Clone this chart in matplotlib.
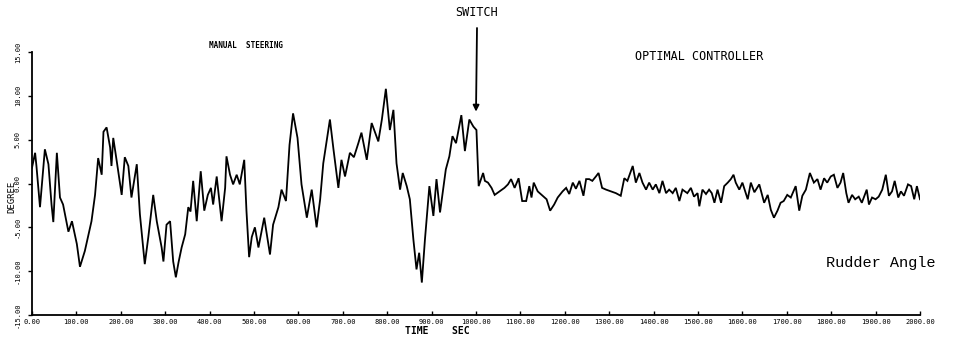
import matplotlib
matplotlib.use("Agg")
import matplotlib.pyplot as plt
import numpy as np

# Rudder angle record, manual steering (0-1000 s)
time_manual = [0, 7, 10, 18, 29, 37, 44, 48, 56, 63, 70, 82, 90, 101, 108, 119, 134, 142,
               149, 157, 161, 168, 176, 179, 183, 191, 202, 209, 217, 224, 236, 243, 254,
               262, 273, 281, 292, 296, 303, 311, 318, 324, 330, 337, 345, 352, 357, 363,
               371, 380, 388, 396, 403, 408, 416, 427, 435, 438, 446, 453, 461, 468, 478,
               483, 489, 495, 502, 510, 523, 536, 543, 555, 562, 572, 580, 588, 598, 607,
               619, 630, 641, 649, 656, 664, 671, 679, 690, 697, 705, 716, 725, 735, 742,
               754, 765, 780, 788, 797, 806, 814, 821, 829, 835, 844, 851, 859, 866, 872,
               878, 885, 895, 904, 911, 919, 932, 940, 947, 955, 967, 975, 985, 994, 1001]
angle_manual = [1.8, 3.5, 2.0, -2.7, 3.9, 2.2, -2.4, -4.4, 3.5, -1.6, -2.4, -5.5, -4.3, -6.9,
                -9.5, -7.7, -4.3, -1.3, 2.9, 1.0, 5.9, 6.4, 4.1, 2.0, 5.2, 2.5, -1.3, 3.0,
                2.0, -1.6, 2.2, -3.5, -9.2, -6.1, -1.3, -4.3, -7.3, -8.9, -4.7, -4.3, -8.9,
                -10.7, -9.0, -7.3, -5.8, -2.7, -3.2, 0.3, -4.3, 1.4, -3.1, -1.3, -0.5, -2.4,
                0.8, -4.3, -0.5, 3.1, 1.0, -0.1, 1.0, -0.1, 2.7, -3.1, -8.4, -6.1, -5.0,
                -7.3, -3.9, -8.1, -4.7, -2.7, -0.7, -2.0, 4.4, 8.0, 5.2, -0.1, -3.9, -0.7,
                -5.0, -1.8, 2.3, 5.0, 7.3, 3.9, -0.5, 2.7, 0.8, 3.5, 3.0, 4.6, 5.8, 2.7, 6.9,
                4.8, 7.3, 10.8, 6.1, 8.4, 2.3, -0.7, 1.2, -0.3, -1.8, -6.4, -9.8, -7.9,
                -11.3, -6.4, -0.3, -3.7, 0.5, -3.3, 1.6, 3.1, 5.4, 4.6, 7.8, 3.7, 7.3, 6.5,
                6.1]

# Rudder angle record, optimal controller (1000-2000 s)
time_optimal = [1006, 1016, 1020, 1027, 1035, 1042, 1053, 1064, 1072, 1079, 1087, 1096, 1104,
                1113, 1120, 1125, 1130, 1139, 1150, 1159, 1167, 1176, 1184, 1195, 1203, 1210,
                1218, 1225, 1233, 1242, 1248, 1255, 1262, 1270, 1276, 1284, 1293, 1304, 1315,
                1326, 1334, 1341, 1353, 1360, 1368, 1375, 1383, 1390, 1398, 1405, 1413, 1420,
                1428, 1435, 1443, 1450, 1458, 1465, 1476, 1484, 1491, 1499, 1503, 1510, 1518,
                1525, 1531, 1537, 1544, 1552, 1559, 1567, 1574, 1580, 1585, 1593, 1600, 1612,
                1619, 1627, 1638, 1649, 1657, 1664, 1671, 1679, 1686, 1693, 1701, 1709, 1720,
                1728, 1735, 1743, 1752, 1761, 1769, 1776, 1784, 1791, 1799, 1806, 1814, 1821,
                1827, 1834, 1839, 1847, 1854, 1862, 1869, 1880, 1885, 1892, 1900, 1907, 1915,
                1923, 1930, 1937, 1943, 1951, 1957, 1964, 1973, 1980, 1987, 1993, 2000]
angle_optimal = [-0.3, 1.2, 0.3, 0.1, -0.5, -1.3, -0.9, -0.5, -0.1, 0.5, -0.5, 0.6, -2.0,
                 -2.0, -0.3, -1.6, 0.1, -0.9, -1.4, -1.8, -3.1, -2.4, -1.6, -0.9, -0.5, -1.2,
                 0.1, -0.6, 0.3, -1.4, 0.5, 0.5, 0.3, 0.8, 1.2, -0.5, -0.7, -0.9, -1.1, -1.4,
                 0.6, 0.3, 2.0, 0.1, 1.2, 0.1, -0.7, 0.1, -0.7, -0.1, -1.1, 0.3, -1.1, -0.7,
                 -1.1, -0.5, -2.0, -0.7, -1.1, -0.5, -1.5, -1.1, -2.6, -0.7, -1.2, -0.7, -1.1,
                 -2.2, -0.7, -2.2, -0.3, 0.1, 0.5, 1.0, 0.1, -0.7, 0.1, -1.8, 0.1, -1.0, -0.1,
                 -2.2, -1.3, -3.0, -3.9, -3.1, -2.2, -2.0, -1.3, -1.6, -0.3, -3.1, -1.4, -0.7,
                 1.2, 0.1, 0.5, -0.7, 0.6, 0.1, 0.8, 1.0, -0.5, 0.1, 1.2, -1.1, -2.2, -1.3,
                 -1.8, -1.5, -2.2, -0.7, -2.4, -1.6, -1.8, -1.5, -0.7, 1.0, -1.4, -0.9, 0.3,
                 -1.6, -0.9, -1.4, -0.1, -0.3, -1.8, -0.3, -1.8]

x_ticks = [0, 100, 200, 300, 400, 500, 600, 700, 800, 900, 1000,
           1100, 1200, 1300, 1400, 1500, 1600, 1700, 1800, 1900, 2000]
y_ticks = [-15, -10, -5, 0, 5, 10, 15]
switch_time = 1000

W, H = 955, 346
fig = plt.figure(figsize=(W / 100, H / 100), dpi=100)
fig.patch.set_facecolor("white")


def fx(px):
    return px / W


def fy(py):
    return 1 - py / H


ax = fig.add_axes([fx(32), 31 / H, 888 / W, 263 / H])
t = time_manual + time_optimal
a = angle_manual + angle_optimal
ax.plot(t, a, color="black", lw=1.3, solid_joinstyle="miter")

ax.set_xlim(0, 2000)
ax.set_ylim(-15, 15)
for s in ("top", "right"):
    ax.spines[s].set_visible(False)
for s in ("left", "bottom"):
    ax.spines[s].set_linewidth(1.3)

mono = "DejaVu Sans Mono"
ax.set_xticks(x_ticks)
ax.set_xticklabels([f"{v:.2f}" for v in x_ticks], fontsize=5, family=mono)
ax.set_yticks(y_ticks)
ax.set_yticklabels([f"{v:.2f}" for v in y_ticks], fontsize=5, family=mono,
                   rotation=90, va="center")
ax.tick_params(axis="x", direction="in", length=3, width=1, pad=3)
ax.tick_params(axis="y", direction="out", length=3, width=1, pad=5)

# Annotations
fig.text(fx(12), fy(197), "DEGREE", rotation=90, ha="center", va="center",
         fontsize=6.5, family=mono)
fig.text(fx(437), fy(331), "TIME    SEC", ha="center", va="center",
         fontsize=7, family=mono, fontweight="bold")
fig.text(fx(246), fy(46), "MANUAL  STEERING", ha="center", va="center",
         fontsize=5.5, family=mono, fontweight="bold")
fig.text(fx(699), fy(56), "OPTIMAL CONTROLLER", ha="center", va="center",
         fontsize=8.5, family=mono)
fig.text(fx(881), fy(263), "Rudder Angle", ha="center", va="center",
         fontsize=11, family="Liberation Mono")
fig.text(fx(477), fy(12), "SWITCH", ha="center", va="center",
         fontsize=8.5, family=mono)

ax.annotate("", xy=(switch_time, 8.2), xycoords="data",
            xytext=(fx(477), fy(28)), textcoords="figure fraction",
            arrowprops=dict(arrowstyle="-|>", color="black", lw=1.3,
                            mutation_scale=9, shrinkA=0, shrinkB=0),
            annotation_clip=False)

fig.savefig("out.png", dpi=100, facecolor="white")
